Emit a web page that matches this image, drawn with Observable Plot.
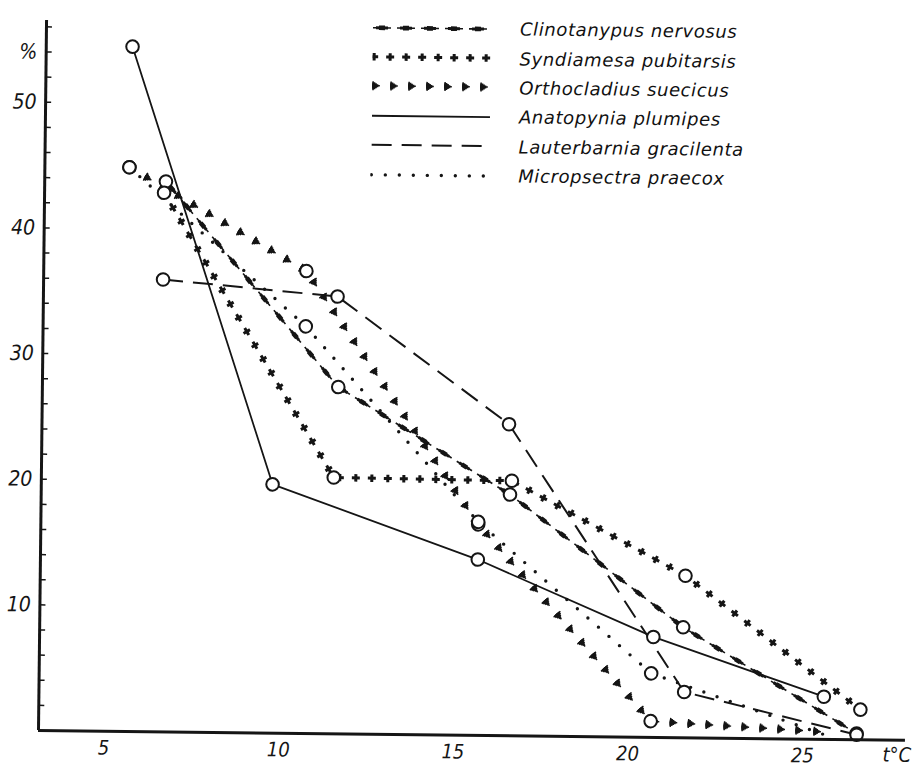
<!DOCTYPE html>
<html>
<head>
<meta charset="utf-8">
<script src="https://cdn.jsdelivr.net/npm/d3@7"></script>
<script src="https://cdn.jsdelivr.net/npm/@observablehq/plot@0.6"></script>
<style>
  body { margin: 0; background: #fff; }
  #wrap { position: relative; width: 915px; height: 768px; transform-origin: 38px 730px; transform: rotate(0.65deg); }
  #chart { position: absolute; left: 0; top: 0; }
  #legend { position: absolute; left: 364px; top: 9px; font-family: "DejaVu Sans", sans-serif; font-style: italic; font-size: 18px; letter-spacing: 0.6px; color: #111; }
  .row { display: flex; align-items: center; height: 29.4px; white-space: nowrap; }
  .row svg { flex: none; margin-right: 28px; }
</style>
</head>
<body>
<div id="wrap"><div id="chart"></div><div id="legend"></div></div>
<script>
// ---- data (temperature °C, share %) ----
const species = [
  "Clinotanypus nervosus",
  "Syndiamesa pubitarsis",
  "Orthocladius suecicus",
  "Anatopynia plumipes",
  "Lauterbarnia gracilenta",
  "Micropsectra praecox"
];
const tempClinotanypus = [6.6, 11.6, 16.55, 21.55, 26.55];
const pctClinotanypus  = [43.8, 27.6, 19.2, 8.8, 0.5];
const tempSyndiamesa   = [6.55, 11.5, 16.6, 21.6, 26.65];
const pctSyndiamesa    = [42.9, 20.4, 20.3, 12.9, 2.4];
const tempOrthocladius = [5.55, 10.65, 15.65, 20.65, 25.6];
const pctOrthocladius  = [44.9, 36.8, 16.8, 1.3, 0.6];
const tempAnatopynia   = [5.6, 9.75, 15.65, 20.7, 25.6];
const pctAnatopynia    = [54.5, 19.8, 14.0, 8.0, 3.4];
const tempLauterbarnia = [6.55, 11.55, 16.5, 21.6, 26.55];
const pctLauterbarnia  = [36.0, 34.8, 24.8, 3.65, 0.4];
const tempMicropsectra = [5.55, 10.65, 15.65, 20.65, 25.6];
const pctMicropsectra  = [44.9, 32.4, 17.0, 5.1, 0.4];
// which points carry an open circle in the figure
const circledOrthocladius = [true, true, true, true, false];
const circledMicropsectra = [true, true, true, true, false];

const xTickValues = [5, 10, 15, 20, 25];
const yTickValues = [10, 20, 30, 40, 50, 54];
const yTickLabels = ["10", "20", "30", "40", "50", "%"];
const xAxisLabel = "t°C";

// ---- build table ----
const temps = [tempClinotanypus, tempSyndiamesa, tempOrthocladius, tempAnatopynia, tempLauterbarnia, tempMicropsectra];
const pcts  = [pctClinotanypus, pctSyndiamesa, pctOrthocladius, pctAnatopynia, pctLauterbarnia, pctMicropsectra];
const circled = {
  "Orthocladius suecicus": circledOrthocladius,
  "Micropsectra praecox": circledMicropsectra
};
const rows = [];
species.forEach((s, i) => temps[i].forEach((t, j) => rows.push({
  species: s, t, pct: pcts[i][j], circled: circled[s] ? circled[s][j] : true
})));

// ---- line styles (layered strokes imitating the printed symbols) ----
const ink = "#151515";
const lineStyles = {
  "Clinotanypus nervosus": [
    {w: 1.6, dash: "18,6", off: 0},
    {w: 3.0, dash: "12,12", off: 21},
    {w: 4.6, dash: "6,18", off: 18}
  ],
  "Syndiamesa pubitarsis": [
    {w: 7.5, dash: "3,13", off: 0},
    {w: 3.0, dash: "8,8", off: 2.5}
  ],
  "Orthocladius suecicus": [
    {w: 9, dash: "1.5,16.5", off: 0},
    {w: 7, dash: "3,15", off: 0},
    {w: 5, dash: "4.5,13.5", off: 0},
    {w: 3, dash: "6,12", off: 0},
    {w: 1.5, dash: "7.5,10.5", off: 0}
  ],
  "Anatopynia plumipes": [{w: 1.8, dash: null, off: 0}],
  "Lauterbarnia gracilenta": [{w: 2, dash: "20,10", off: 0}],
  "Micropsectra praecox": [{w: 3.4, dash: "0,14", off: 0, cap: "round"}]
};

const marks = [];
for (const s of species) {
  const data = rows.filter(d => d.species === s);
  for (const L of lineStyles[s]) {
    marks.push(Plot.line(data, {
      x: "t", y: "pct", stroke: ink, strokeWidth: L.w,
      strokeDasharray: L.dash, strokeDashoffset: L.off,
      strokeLinecap: L.cap || "butt", strokeLinejoin: "round"
    }));
  }
}
const xDomain = [3.13, 27.95];
const yDomain = [0, 56.5];

const chart = Plot.plot({
  width: 915,
  height: 768,
  marginLeft: 38,
  marginRight: 10,
  marginTop: 20,
  marginBottom: 38,
  style: {fontFamily: "'DejaVu Sans Condensed', 'DejaVu Sans', sans-serif", fontStyle: "italic", color: ink, background: "#fff"},
  x: {domain: xDomain, label: null},
  y: {domain: yDomain, label: null},
  marks: [
    ...marks,
    Plot.dot(rows.filter(d => d.circled), {x: "t", y: "pct", r: 6.3, stroke: ink, strokeWidth: 2, fill: "#fff"}),
    Plot.ruleY([yDomain[0]], {stroke: ink, strokeWidth: 3}),
    Plot.ruleX([xDomain[0]], {stroke: ink, strokeWidth: 3}),
    Plot.axisY(d3.range(2, 57, 2), {anchor: "left", tickSize: 6, dx: 6, text: null, label: null, stroke: ink, strokeWidth: 1.5}),
    Plot.axisY(yTickValues, {anchor: "left", tickSize: 0, tickPadding: 9, fontSize: 21, fill: ink,
      tickFormat: d => yTickLabels[yTickValues.indexOf(d)], label: null}),
    Plot.axisX(xTickValues, {anchor: "bottom", tickSize: 0, tickPadding: 9, fontSize: 20, fill: ink, label: null}),
    Plot.text([xAxisLabel], {frameAnchor: "bottom-right", dx: 6, dy: 15, textAnchor: "end", lineAnchor: "middle", fontSize: 20, fill: ink})
  ]
});
document.getElementById("chart").appendChild(chart);

// ---- legend ----
const legend = d3.select("#legend");
for (const s of species) {
  const row = legend.append("div").attr("class", "row");
  const svg = row.append("svg").attr("width", 120).attr("height", 28);
  for (const L of lineStyles[s]) {
    svg.append("line")
      .attr("x1", 1).attr("x2", 119).attr("y1", 14).attr("y2", 14)
      .attr("stroke", ink).attr("stroke-width", L.w)
      .attr("stroke-dasharray", L.dash).attr("stroke-dashoffset", L.off)
      .attr("stroke-linecap", L.cap || "butt");
  }
  row.append("span").text(s);
}
</script>
</body>
</html>
